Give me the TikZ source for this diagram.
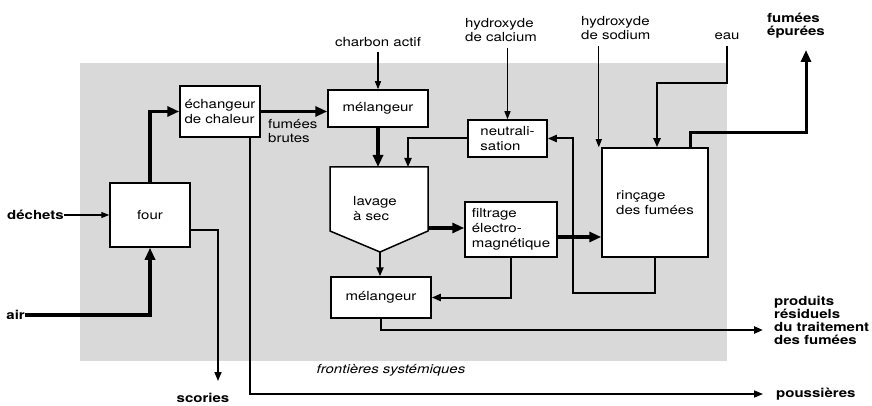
\documentclass[tikz,border=0pt]{standalone}
\usepackage{fontspec}
\setmainfont[FakeStretch=1.2]{TeX Gyre Heros}
\usetikzlibrary{arrows.meta,calc}
\begin{document}
\begin{tikzpicture}[x=1pt,y=-1pt,
  boxfont/.style={font=\fontsize{12.5}{15}\selectfont},
  box/.style={draw,line width=1.5pt,fill=white,boxfont,align=left,inner sep=0pt},
  lbl/.style={font=\fontsize{12.5}{14}\selectfont,align=left,inner sep=0pt},
  blbl/.style={font=\bfseries\fontsize{12.5}{13}\selectfont,align=left,inner sep=0pt},
  thk/.style={line width=3.3pt,-{Triangle[length=12pt,width=10pt]}},
  med/.style={line width=2pt,-{Triangle[length=9pt,width=7pt]}},
  thn/.style={line width=1.3pt,-{Triangle[length=8pt,width=6pt]}},
]
\useasboundingbox (0,0) rectangle (872,406);
\fill[black!15] (80,63) rectangle (727,361);

% boxes
\node[box,minimum width=80pt,minimum height=64pt] (four) at (150,215) {four};
\node[box,minimum width=80pt,minimum height=51pt] (ech) at (220,111.5) {échangeur\\de chaleur};
\node[box,minimum width=100pt,minimum height=37pt] (melA) at (378,108.5) {mélangeur};
\node[box,minimum width=79pt,minimum height=37pt] (neut) at (507.5,138.5) {neutrali-\\sation};
\node[box,minimum width=92pt,minimum height=55pt] (filt) at (511,229.5) {filtrage\\électro-\\magnétique};
\node[box,minimum width=100pt,minimum height=41pt] (melB) at (381,297.5) {mélangeur};
\node[box,minimum width=106pt,minimum height=109pt] (rinc) at (655,202.5) {rinçage\\des fumées};

% lavage a sec (pentagon)
\coordinate (lavTL) at (330,167);
\coordinate (lavTR) at (428,167);
\coordinate (lavR) at (428,231);
\coordinate (lavB) at (380,252);
\coordinate (lavL) at (330,231);
\filldraw[fill=white,line width=1.5pt] (lavTL) -- (lavTR) -- (lavR) -- (lavB) -- (lavL) -- cycle;
\node[box,draw=none,fill=none] (lav) at (375,209) {lavage\\à sec};
\coordinate (lavN) at (408,167);
\coordinate (lavE) at (428,228);

% labels
\node[blbl,anchor=east] (dech) at (64,215) {déchets};
\node[blbl,anchor=east] (air) at (25,315) {air};
\node[blbl] (scor) at (203,398) {scories};
\node[blbl,anchor=west] (pous) at (776,394) {poussières};
\node[blbl,anchor=west] (prod) at (774,320) {produits\\résiduels\\du traitement\\des fumées};
\node[blbl] (fep) at (796,26) {fumées\\épurées};
\node[lbl,anchor=west] (hca) at (465,30) {hydroxyde\\de calcium};
\node[lbl,anchor=west] (hso) at (581,28) {hydroxyde\\de sodium};
\node[lbl] (eau) at (727,36) {eau};
\node[lbl] (charb) at (378,42) {charbon actif};
\node[lbl,anchor=north west] (fb) at (268,119) {fumées\\brutes};
\node[lbl,font=\itshape\fontsize{12.5}{14}\selectfont] (front) at (391,370) {frontières systémiques};

% free ends
\coordinate (scorEnd) at (218,381);
\coordinate (pousEnd) at (763,394);
\coordinate (prodEnd) at (763,330);
\coordinate (loopA) at (573,293);
\coordinate (eauC) at (657,83);
\coordinate (fepC) at (806,133);
\coordinate (fepEnd) at (806,50);

% connectors
\draw[thn] (dech.east) -- (four.west);
\draw[thk] (air.east) -| (four.south);
\draw[thk] (four.north) |- (ech.west);
\draw[med,line width=1.6pt] ([yshift=-15pt]four.east) -| (scorEnd);
\draw[med,line width=1.5pt] ([xshift=30pt]ech.south) |- (pousEnd);
\draw[thk] (ech.east) -- (ech.east -| melA.west);
\draw[thn,shorten <=5pt] (charb.south) -- (melA.north);
\draw[thk] (melA.south) -- (melA.south |- lavTL);
\draw[med] (neut.west) -| (lavN);
\draw[thn,shorten <=6pt] (hca.south -| neut.north) -- (neut.north);
\draw[med] (rinc.south) |- (loopA) |- (neut.east);
\draw[thk] ([yshift=-7.5pt]filt.east) -- ([yshift=-7.5pt]filt.east -| rinc.west);
\draw[thk] (lavE) -- (lavE -| filt.west);
\draw[med] (lavB) -- (lavB |- melB.north);
\draw[med] (filt.south) |- (melB.east);
\draw[med,line width=2.2pt] (melB.south) |- (prodEnd);
\draw[thn,shorten <=6pt] ([xshift=-17pt]hso.south) -- ([xshift=-17pt]hso.south |- rinc.north);
\draw[med,line width=2.5pt,shorten <=6pt] (eau.south) |- (eauC) -- (eauC |- rinc.north);
\draw[thk,line width=3pt] ([xshift=35pt]rinc.north) |- (fepC) -- (fepEnd);
\end{tikzpicture}
\end{document}
